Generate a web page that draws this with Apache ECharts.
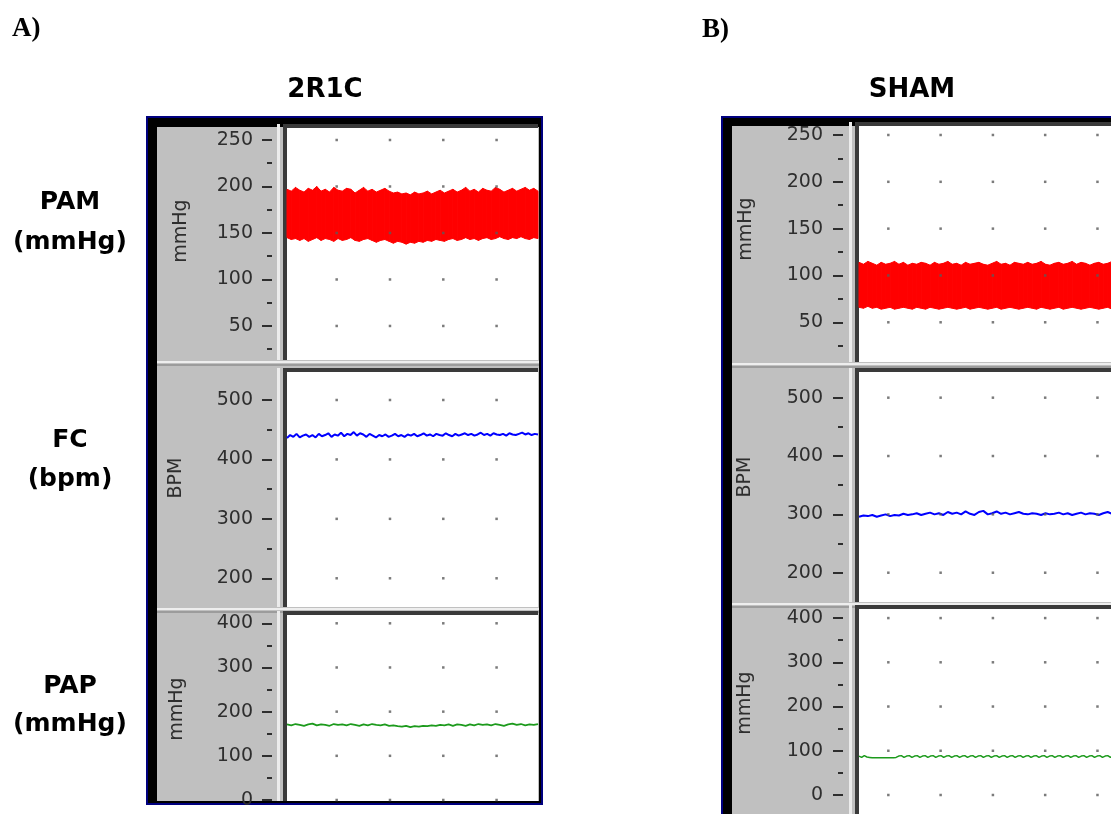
<!DOCTYPE html>
<html>
<head>
<meta charset="utf-8">
<script src="https://cdn.jsdelivr.net/npm/echarts@6/dist/echarts.min.js"></script>
<style>
html, body { margin: 0; padding: 0; background: #fff; }
#chart { width: 1111px; height: 814px; }
</style>
</head>
<body>
<div id="chart"></div>
<script>
// ---- Recording windows (seconds) and time gridlines ----
const timeA = [0.68, 47.77];
const timeB = [4.39, 54.5];
const timeGridA = [10, 20, 30, 40];
const timeGridB = [10, 20, 30, 40, 50];

// ---- Axis ticks ----
const pamTicks = [50, 100, 150, 200, 250];
const pamMinor = [25, 75, 125, 175, 225];
const fcTicks = [200, 300, 400, 500];
const fcMinor = [250, 350, 450];
const papTicks = [0, 100, 200, 300, 400];
const papMinor = [-50, 50, 150, 250, 350];

// ---- 2R1C traces ----
// PAM: systolic peaks / diastolic troughs of the pressure waveform (mmHg)
const pamSysA = [197,195,199,196,194,198,196,200,195,197,
                 194,199,196,195,198,197,193,196,199,195,
                 197,194,196,198,195,193,194,192,193,191,
                 194,192,193,195,192,194,196,193,195,197,
                 194,196,199,195,197,194,198,196,195,199,
                 197,194,196,198,195,197,199,196,198,195];
const pamDiaA = [145,143,144,142,144,141,143,145,142,144,
                 143,141,144,142,143,145,142,141,143,144,
                 142,140,142,143,141,139,141,140,138,140,
                 139,141,140,142,141,143,142,141,143,144,
                 142,143,145,143,144,142,144,145,143,144,
                 146,144,143,145,144,146,144,143,145,144];
// FC: heart rate (bpm)
const fcA = [436,441,438,443,437,440,442,438,441,437,
             443,439,441,444,438,442,440,445,439,443,
             441,446,440,444,442,438,443,440,437,441,
             439,442,438,440,443,439,441,438,442,440,
             443,439,441,444,440,442,439,443,441,440,
             444,441,439,443,440,442,444,441,443,440,
             442,445,441,443,440,444,442,441,443,440,
             444,442,441,443,445,442,444,441,443,442];
// PAP (mmHg)
const papA = [171,169,172,170,168,171,173,169,171,170,
              168,172,170,171,169,172,170,168,171,169,
              172,170,169,171,168,169,167,166,168,165,
              167,166,168,167,169,168,170,169,171,168,
              171,170,168,171,169,172,170,171,169,172,
              170,168,171,173,170,172,169,171,170,172];

// ---- SHAM traces ----
const pamSysB = [114,112,115,113,111,114,112,113,115,112,
                 114,111,113,112,114,113,111,114,112,113,
                 115,112,113,111,114,112,113,114,112,111,
                 113,115,112,113,111,114,113,112,114,112,
                 113,115,112,111,113,114,112,113,115,112,
                 114,113,111,113,114,112,113,115,112,114];
const pamDiaB = [66,65,67,65,66,64,65,66,64,65,
                 66,65,64,66,65,64,66,65,64,65,
                 66,65,64,65,66,64,65,66,65,64,
                 65,66,64,65,66,65,64,65,66,65,
                 64,66,65,64,65,66,64,65,66,65,
                 64,65,66,65,64,65,66,64,65,66];
const fcB = [296,298,297,299,296,298,300,297,299,298,
             301,299,300,302,299,301,303,300,302,299,
             304,301,303,300,305,301,299,304,306,300,
             302,305,301,303,300,302,304,301,300,302,
             301,299,302,300,301,303,300,302,299,301,
             303,300,302,301,299,302,304,301,300,302];
const papB = [88,85,89,86,85,84,84,84,84,84,
              84,84,84,84,85,88,89,85,88,89,
              85,88,89,85,88,89,85,88,89,85,
              88,89,85,88,89,85,88,89,85,88,
              89,85,88,89,85,88,89,85,88,89,
              85,88,89,85,88,89,85,88,89,85,
              88,89,85,88,89,85,88,89,85,88,
              89,85,88,89,85,88,89,85,88,89,
              85,88,89,85,88,89,85,88,89,85,
              88,89,85,88,89,85,88,89,85,88];

// ---- Layout ----
const FONT = "'DejaVu Sans', sans-serif";
const grids = [
  { left: 287, top: 128, width: 251, height: 232 },  // 2R1C PAM
  { left: 287, top: 372, width: 251, height: 235 },  // 2R1C FC
  { left: 287, top: 615, width: 251, height: 186 },  // 2R1C PAP
  { left: 859, top: 126, width: 262, height: 236 },  // SHAM PAM
  { left: 859, top: 372, width: 262, height: 230 },  // SHAM FC
  { left: 859, top: 609, width: 262, height: 209 }   // SHAM PAP
];
const yRanges = [[13.4, 262.9], [151.7, 547.1], [-2.3, 418.8],
                 [7.6, 259.6], [149.8, 544], [-52, 420.5]];
const axisOffsets = [15, 15, 15, 16, 16, 16];
const labelMargins = [19, 19, 19, 20, 20, 20];

// samples spread evenly across a recording window
function timed(range, vals) {
  const n = vals.length;
  return vals.map((v, i) => [range[0] + (range[1] - range[0]) * i / (n - 1), v]);
}
function gridDots(xs, ys) {
  const out = [];
  xs.forEach(x => ys.forEach(y => out.push([x, y])));
  return out;
}

const xAxes = grids.map((g, i) => ({
  type: 'value', gridIndex: i, show: false,
  min: (i < 3 ? timeA : timeB)[0], max: (i < 3 ? timeA : timeB)[1]
}));

function yPair(i, major, minor) {
  const base = {
    type: 'value', gridIndex: i, min: yRanges[i][0], max: yRanges[i][1],
    position: 'left', offset: axisOffsets[i],
    axisLine: { show: false }, splitLine: { show: false }
  };
  return [
    Object.assign({}, base, {
      axisTick: { show: true, customValues: major, length: 10, lineStyle: { color: '#2e2e2e', width: 2 } },
      axisLabel: { show: true, customValues: major, margin: labelMargins[i],
                   color: '#2e2e2e', fontFamily: FONT, fontSize: 19 }
    }),
    Object.assign({}, base, {
      axisTick: { show: true, customValues: minor, length: 5, lineStyle: { color: '#2e2e2e', width: 2 } },
      axisLabel: { show: false }
    })
  ];
}
const yAxes = [].concat(
  yPair(0, pamTicks, pamMinor), yPair(1, fcTicks, fcMinor), yPair(2, papTicks, papMinor),
  yPair(3, pamTicks, pamMinor), yPair(4, fcTicks, fcMinor), yPair(5, papTicks, papMinor)
);

function dotSeries(i, xs, ys) {
  return { type: 'scatter', xAxisIndex: i, yAxisIndex: 2 * i, data: gridDots(xs, ys),
           symbol: 'rect', symbolSize: 2.5, itemStyle: { color: '#5a5a5a' }, silent: true, z: 5 };
}
function traceSeries(i, range, vals, color, width) {
  return { type: 'line', xAxisIndex: i, yAxisIndex: 2 * i, data: timed(range, vals),
           symbol: 'none', lineStyle: { color, width }, silent: true, z: 3 };
}
// pressure waveform envelope: filled between diastolic troughs and systolic peaks
function bandSeries(i, range, sys, dia, color) {
  const n = sys.length;
  const data = sys.map((v, k) => [range[0] + (range[1] - range[0]) * k / (n - 1), dia[k], v]);
  return {
    type: 'custom', xAxisIndex: i, yAxisIndex: 2 * i, data, silent: true, z: 3,
    encode: { x: 0, y: [1, 2] },
    renderItem(params, api) {
      const k = params.dataIndex;
      if (k >= n - 1) return null;
      const t0 = data[k][0], t1 = data[k + 1][0];
      const pts = [
        api.coord([t0, data[k][2]]), api.coord([t1, data[k + 1][2]]),
        api.coord([t1, data[k + 1][1]]), api.coord([t0, data[k][1]])
      ];
      return { type: 'polygon', shape: { points: pts },
               style: { fill: color, stroke: color, lineWidth: 1 } };
    }
  };
}

const RED = '#ff0000', BLUE = '#0000ff', GREEN = '#1c9a1c';
const series = [].concat(
  dotSeries(0, timeGridA, pamTicks), bandSeries(0, timeA, pamSysA, pamDiaA, RED),
  dotSeries(1, timeGridA, fcTicks), traceSeries(1, timeA, fcA, BLUE, 2),
  dotSeries(2, timeGridA, papTicks), traceSeries(2, timeA, papA, GREEN, 1.8),
  dotSeries(3, timeGridB, pamTicks), bandSeries(3, timeB, pamSysB, pamDiaB, RED),
  dotSeries(4, timeGridB, fcTicks), traceSeries(4, timeB, fcB, BLUE, 2),
  dotSeries(5, timeGridB, papTicks), traceSeries(5, timeB, papB, GREEN, 1.5)
);

// ---- Window chrome: frames, grey label columns, sunken plot borders ----
const graphics = [];
function rect(x, y, w, h, fill, z) {
  graphics.push({ type: 'rect', shape: { x, y, width: w, height: h }, style: { fill }, z, silent: true });
}
function text(x, y, str, font, fill, extra, align) {
  graphics.push(Object.assign({ type: 'text', x, y, z: 20, silent: true,
    style: { text: str, font, fill, align: align || 'center', verticalAlign: 'middle' } }, extra || {}));
}
// frames
rect(146, 116, 397, 689, '#00007f', -30);
rect(148, 118, 393, 685, '#000000', -29);
rect(157, 127, 382, 674, '#c0c0c0', -28);
rect(721, 116, 500, 800, '#00007f', -30);
rect(723, 118, 496, 796, '#000000', -29);
rect(732, 126, 490, 790, '#c0c0c0', -28);
// sub-panel dividers
[[157, 382, 360], [157, 382, 607], [732, 490, 362], [732, 490, 602]].forEach(([x, w, y]) => {
  rect(x, y + 1, w, 2, '#eeeeee', -27);
  rect(x, y + 4, w, 2, '#9c9c9c', -27);
});
// plot borders
grids.forEach(g => {
  rect(g.left - 10, g.top - 4, 3, g.height + 4, '#ececec', -26);
  rect(g.left - 4, g.top - 4, 4, g.height + 4, '#3a3a3a', -25);
  rect(g.left - 4, g.top - 4, g.width + 4, 4, '#3a3a3a', -25);
});

// ---- Texts ----
const BOLD = "bold 25px 'DejaVu Sans'";
const SERIF = "bold 27px 'Liberation Serif'";
text(12, 29, 'A)', SERIF, '#000', null, 'left');
text(702, 30, 'B)', SERIF, '#000', null, 'left');
text(325, 90, '2R1C', "bold 26px 'DejaVu Sans'", '#000');
text(912, 90, 'SHAM', "bold 26px 'DejaVu Sans'", '#000');
text(70, 202, 'PAM', BOLD, '#000');
text(70, 242, '(mmHg)', BOLD, '#000');
text(70, 440, 'FC', BOLD, '#000');
text(70, 479, '(bpm)', BOLD, '#000');
text(70, 686, 'PAP', BOLD, '#000');
text(70, 724, '(mmHg)', BOLD, '#000');
// rotated axis names
const NAME = "19px 'DejaVu Sans'";
[[181, 231, 'mmHg'], [176, 478, 'BPM'], [177, 709, 'mmHg'],
 [746, 229, 'mmHg'], [745, 477, 'BPM'], [745, 703, 'mmHg']].forEach(([x, y, s]) => {
  text(x, y, s, NAME, '#2e2e2e', { rotation: Math.PI / 2 });
});

const chart = echarts.init(document.getElementById('chart'));
chart.setOption({
  animation: false,
  backgroundColor: '#ffffff',
  grid: grids.map(g => Object.assign({ show: true, backgroundColor: '#ffffff', borderWidth: 0,
                                       containLabel: false, outerBoundsMode: 'none' }, g)),
  xAxis: xAxes,
  yAxis: yAxes,
  series,
  graphic: { elements: graphics }
});
</script>
</body>
</html>
